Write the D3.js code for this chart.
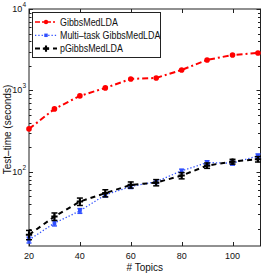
<!DOCTYPE html>
<html>
<head>
<meta charset="utf-8">
<script src="https://cdn.jsdelivr.net/npm/d3@7"></script>
<style>
  body { margin: 0; background: #fff; }
  svg { display: block; font-family: "Liberation Sans", Arial, sans-serif; }
  .tick-label { font-size: 9px; fill: #111; }
  .axis-title { font-size: 10px; fill: #111; }
  .legend-text { font-size: 10px; fill: #111; }
</style>
</head>
<body>
<svg></svg>
<script>
const WIDTH = 263,
  HEIGHT = 277;
const plot = { left: 29, right: 260.5, top: 9, bottom: 246 };

// data
const topics = [20, 30, 40, 50, 60, 70, 80, 90, 100, 110];
const gibbsMedLDA = [337, 593, 857, 1074, 1384, 1423, 1786, 2367, 2727, 2884];
const multiTask = [14.6, 23.5, 33.2, 52.2, 66, 76, 103, 130, 128, 157];
const multiTaskErr = [1.2, 1.8, 2.2, 3, 3.5, 4, 5, 7, 7, 9];
const pGibbs = [16.9, 28.3, 43.2, 54.8, 69.2, 73.9, 90.1, 119.5, 133.7, 143.2];
const pGibbsErr = [2.2, 3, 4.5, 5.5, 6, 6.5, 8, 9, 9, 11];
const xTicks = [20, 40, 60, 80, 100];
const yTicks = [2, 3, 4]; // exponents
const legendLabels = ["GibbsMedLDA", "Multi\u2013task GibbsMedLDA", "pGibbsMedLDA"];

const svg = d3.select("svg").attr("width", WIDTH).attr("height", HEIGHT);

const x = d3.scaleLinear().domain([20, 111]).range([plot.left, plot.right]);
const y = d3.scaleLog().domain([12.3, 10000]).range([plot.bottom, plot.top]);

const axisColor = "#222";

// frame
svg
  .append("rect")
  .attr("x", plot.left)
  .attr("y", plot.top)
  .attr("width", plot.right - plot.left)
  .attr("height", plot.bottom - plot.top)
  .attr("fill", "none")
  .attr("stroke", axisColor)
  .attr("stroke-width", 1);

// x ticks (inward, top and bottom)
const xt = svg.append("g").attr("class", "x-ticks");
xTicks.forEach(t => {
  const px = Math.round(x(t)) + 0.5;
  xt.append("line").attr("x1", px).attr("x2", px).attr("y1", plot.bottom).attr("y2", plot.bottom - 4).attr("stroke", axisColor);
  xt.append("line").attr("x1", px).attr("x2", px).attr("y1", plot.top).attr("y2", plot.top + 4).attr("stroke", axisColor);
  xt.append("text")
    .attr("class", "tick-label")
    .attr("x", x(t))
    .attr("y", plot.bottom + 13)
    .attr("text-anchor", "middle")
    .text(t);
});

// y ticks, major and minor, on both sides
const yt = svg.append("g").attr("class", "y-ticks");
const minorVals = [];
[1, 2, 3].forEach(e => {
  for (let m = 2; m <= 9; m++) minorVals.push(m * Math.pow(10, e));
});
minorVals
  .filter(v => v >= y.domain()[0] && v <= y.domain()[1])
  .forEach(v => {
    const py = Math.round(y(v)) + 0.5;
    yt.append("line").attr("x1", plot.left).attr("x2", plot.left + 2.5).attr("y1", py).attr("y2", py).attr("stroke", axisColor);
    yt.append("line").attr("x1", plot.right).attr("x2", plot.right - 2.5).attr("y1", py).attr("y2", py).attr("stroke", axisColor);
  });
yTicks.forEach(e => {
  const v = Math.pow(10, e);
  const py = Math.round(y(v)) + 0.5;
  yt.append("line").attr("x1", plot.left).attr("x2", plot.left + 4).attr("y1", py).attr("y2", py).attr("stroke", axisColor);
  yt.append("line").attr("x1", plot.right).attr("x2", plot.right - 4).attr("y1", py).attr("y2", py).attr("stroke", axisColor);
  const lbl = yt
    .append("text")
    .attr("class", "tick-label")
    .attr("x", plot.left - 3)
    .attr("y", y(v) + 3)
    .attr("text-anchor", "end");
  lbl.append("tspan").text("10");
  lbl.append("tspan").attr("font-size", "6.5px").attr("dy", -5).text(e);
});

// axis titles
svg
  .append("text")
  .attr("class", "axis-title")
  .attr("x", (plot.left + plot.right) / 2)
  .attr("y", plot.bottom + 25)
  .attr("text-anchor", "middle")
  .text("# Topics");
svg
  .append("text")
  .attr("class", "axis-title")
  .attr("transform", `translate(10.5,${(plot.top + plot.bottom) / 2 + 2}) rotate(-90)`)
  .attr("text-anchor", "middle")
  .text("Test\u2013time (seconds)");

const line = d3
  .line()
  .x((d, i) => x(topics[i]))
  .y(d => y(d));

// GibbsMedLDA
const red = "#ff0000";
svg
  .append("path")
  .datum(gibbsMedLDA)
  .attr("d", line)
  .attr("fill", "none")
  .attr("stroke", red)
  .attr("stroke-width", 2)
  .attr("stroke-dasharray", "6,3,2,3");
svg
  .append("g")
  .selectAll("circle")
  .data(gibbsMedLDA)
  .enter()
  .append("circle")
  .attr("cx", (d, i) => x(topics[i]))
  .attr("cy", d => y(d))
  .attr("r", 2.8)
  .attr("fill", red);

// error bar helper
const drawErrors = (values, errs, color, width, cap) => {
  const g = svg.append("g");
  values.forEach((v, i) => {
    const px = x(topics[i]);
    const y1 = y(v - errs[i]),
      y2 = y(v + errs[i]);
    g.append("line").attr("x1", px).attr("x2", px).attr("y1", y1).attr("y2", y2).attr("stroke", color).attr("stroke-width", width);
    [y1, y2].forEach(yy =>
      g.append("line").attr("x1", px - cap).attr("x2", px + cap).attr("y1", yy).attr("y2", yy).attr("stroke", color).attr("stroke-width", width)
    );
  });
  return g;
};

// Multi-task GibbsMedLDA
const blue = "#3050ff";
svg
  .append("path")
  .datum(multiTask)
  .attr("d", line)
  .attr("fill", "none")
  .attr("stroke", blue)
  .attr("stroke-width", 1.3)
  .attr("stroke-dasharray", "1.3,2");
drawErrors(multiTask, multiTaskErr, blue, 1.5, 2.5);
svg
  .append("g")
  .selectAll("path")
  .data(multiTask)
  .enter()
  .append("path")
  .attr("d", d3.symbol(d3.symbolSquare, 14))
  .attr("transform", (d, i) => `translate(${x(topics[i])},${y(d)})`)
  .attr("fill", blue);

// pGibbsMedLDA
svg
  .append("path")
  .datum(pGibbs)
  .attr("d", line)
  .attr("fill", "none")
  .attr("stroke", "#000")
  .attr("stroke-width", 2)
  .attr("stroke-dasharray", "5,4");
drawErrors(pGibbs, pGibbsErr, "#000", 1.5, 3);
svg
  .append("g")
  .selectAll("path")
  .data(pGibbs)
  .enter()
  .append("path")
  .attr("d", d3.symbol(d3.symbolCross, 22))
  .attr("transform", (d, i) => `translate(${x(topics[i])},${y(d)})`)
  .attr("fill", "#000");

// legend
const legend = svg.append("g").attr("class", "legend");
legend
  .append("rect")
  .attr("x", 32.5)
  .attr("y", 12.5)
  .attr("width", 128)
  .attr("height", 45)
  .attr("fill", "#fff")
  .attr("stroke", axisColor);
const legendStyles = [
  { color: red, width: 1.5, dash: "5,2,2,2" },
  { color: blue, width: 1.3, dash: "1.3,2" },
  { color: "#000", width: 2, dash: "5,4" }
];
legendLabels.forEach((label, i) => {
  const ly = 22 + i * 13.3;
  const s = legendStyles[i];
  legend.append("line").attr("x1", 35).attr("x2", 57).attr("y1", ly).attr("y2", ly)
    .attr("stroke", s.color).attr("stroke-width", s.width).attr("stroke-dasharray", s.dash);
  if (i === 0) {
    legend.append("circle").attr("cx", 46).attr("cy", ly).attr("r", 2.2).attr("fill", red);
  } else if (i === 1) {
    legend.append("path").attr("d", d3.symbol(d3.symbolSquare, 12)).attr("transform", `translate(46,${ly})`).attr("fill", blue);
  } else {
    legend.append("path").attr("d", d3.symbol(d3.symbolCross, 22)).attr("transform", `translate(46,${ly})`).attr("fill", "#000");
  }
  const t = legend.append("text").attr("class", "legend-text").attr("x", 60).attr("y", ly + 3.5).text(label);
  // the reference font is a little narrower than Liberation Sans
  const w = t.node().getComputedTextLength();
  t.attr("textLength", w * 0.89).attr("lengthAdjust", "spacingAndGlyphs");
});
</script>
</body>
</html>
